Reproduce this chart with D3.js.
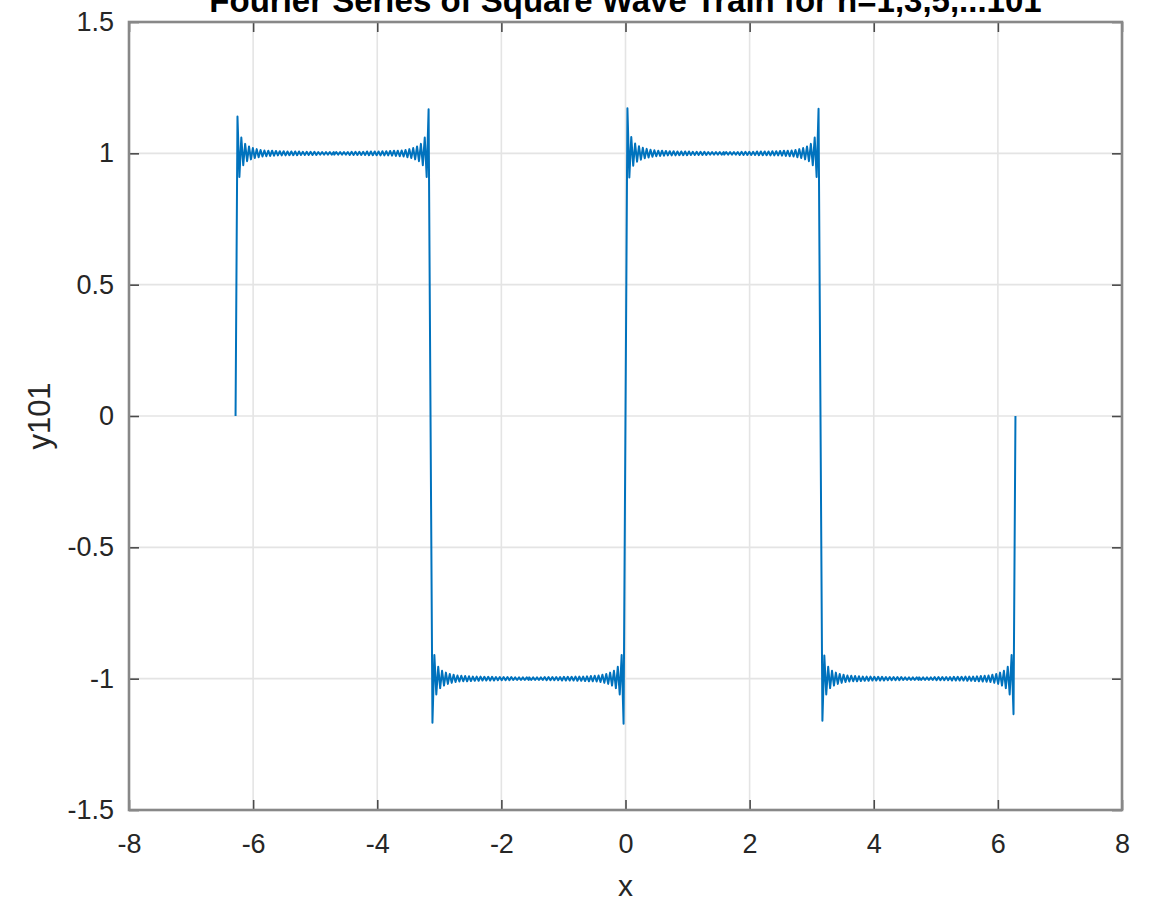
<!DOCTYPE html>
<html>
<head>
<meta charset="utf-8">
<script src="https://cdn.jsdelivr.net/npm/d3@7"></script>
<style>
  body { margin: 0; background: #fff; }
  svg { display: block; font-family: "Liberation Sans", Arial, Helvetica, sans-serif; }
</style>
</head>
<body>
<svg width="1153" height="909"></svg>
<script>
// values (x, y101), one array per half period
var riseLeft = [
  [-6.2832, 0.000],
  [-6.2522, 1.140], [-6.2212, 0.910], [-6.1902, 1.060], [-6.1592, 0.955], [-6.1282, 1.036],
  [-6.0972, 0.970], [-6.0662, 1.026], [-6.0352, 0.977], [-6.0042, 1.020], [-5.9732, 0.982],
  [-5.9422, 1.016], [-5.9112, 0.985], [-5.8802, 1.013], [-5.8492, 0.988], [-5.8182, 1.011],
  [-5.7872, 0.989], [-5.7562, 1.010], [-5.7252, 0.990], [-5.6942, 1.010], [-5.6632, 0.991],
  [-5.6322, 1.009], [-5.6012, 0.992], [-5.5702, 1.008], [-5.5392, 0.992], [-5.5082, 1.008],
  [-5.4772, 0.992], [-5.4462, 1.007], [-5.4152, 0.993], [-5.3842, 1.007], [-5.3532, 0.993],
  [-5.3222, 1.007], [-5.2912, 0.993], [-5.2602, 1.007], [-5.2292, 0.994], [-5.1982, 1.006],
  [-5.1672, 0.994], [-5.1362, 1.006], [-5.1052, 0.994], [-5.0742, 1.006], [-5.0432, 0.994],
  [-5.0122, 1.006], [-4.9812, 0.994], [-4.9502, 1.005], [-4.9192, 0.995], [-4.8882, 1.005],
  [-4.8572, 0.995], [-4.8262, 1.005], [-4.7952, 0.995], [-4.7642, 1.005], [-4.7332, 0.995],
  [-4.7022, 1.005], [-4.6916, 0.995], [-4.6606, 1.005], [-4.6296, 0.995], [-4.5986, 1.005],
  [-4.5676, 0.995], [-4.5366, 1.005], [-4.5056, 0.995], [-4.4746, 1.005], [-4.4436, 0.994],
  [-4.4126, 1.006], [-4.3816, 0.994], [-4.3506, 1.006], [-4.3196, 0.994], [-4.2886, 1.006],
  [-4.2576, 0.994], [-4.2266, 1.006], [-4.1956, 0.994], [-4.1646, 1.007], [-4.1336, 0.993],
  [-4.1026, 1.007], [-4.0716, 0.993], [-4.0406, 1.007], [-4.0096, 0.993], [-3.9786, 1.007],
  [-3.9476, 0.992], [-3.9166, 1.008], [-3.8856, 0.992], [-3.8546, 1.008], [-3.8236, 0.992],
  [-3.7926, 1.009], [-3.7616, 0.991], [-3.7306, 1.010], [-3.6996, 0.990], [-3.6686, 1.010],
  [-3.6376, 0.989], [-3.6066, 1.011], [-3.5756, 0.988], [-3.5446, 1.013], [-3.5136, 0.985],
  [-3.4826, 1.016], [-3.4516, 0.982], [-3.4206, 1.020], [-3.3896, 0.977], [-3.3586, 1.026],
  [-3.3276, 0.970], [-3.2966, 1.036], [-3.2656, 0.955], [-3.2346, 1.060], [-3.2036, 0.910],
  [-3.1726, 1.168]
];

var lowLeft = [
  [-3.1106, -1.168], [-3.0796, -0.910], [-3.0486, -1.060], [-3.0176, -0.955], [-2.9866, -1.036],
  [-2.9556, -0.970], [-2.9246, -1.026], [-2.8936, -0.977], [-2.8626, -1.020], [-2.8316, -0.982],
  [-2.8006, -1.016], [-2.7696, -0.985], [-2.7386, -1.013], [-2.7076, -0.988], [-2.6766, -1.011],
  [-2.6456, -0.989], [-2.6146, -1.010], [-2.5836, -0.990], [-2.5526, -1.010], [-2.5216, -0.991],
  [-2.4906, -1.009], [-2.4596, -0.992], [-2.4286, -1.008], [-2.3976, -0.992], [-2.3666, -1.008],
  [-2.3356, -0.992], [-2.3046, -1.007], [-2.2736, -0.993], [-2.2426, -1.007], [-2.2116, -0.993],
  [-2.1806, -1.007], [-2.1496, -0.993], [-2.1186, -1.007], [-2.0876, -0.994], [-2.0566, -1.006],
  [-2.0256, -0.994], [-1.9946, -1.006], [-1.9636, -0.994], [-1.9326, -1.006], [-1.9016, -0.994],
  [-1.8706, -1.006], [-1.8396, -0.994], [-1.8086, -1.005], [-1.7776, -0.995], [-1.7466, -1.005],
  [-1.7156, -0.995], [-1.6846, -1.005], [-1.6536, -0.995], [-1.6226, -1.005], [-1.5916, -0.995],
  [-1.5606, -1.005], [-1.550, -0.995], [-1.519, -1.005], [-1.488, -0.995], [-1.457, -1.005],
  [-1.426, -0.995], [-1.395, -1.005], [-1.364, -0.995], [-1.333, -1.005], [-1.302, -0.994],
  [-1.271, -1.006], [-1.240, -0.994], [-1.209, -1.006], [-1.178, -0.994], [-1.147, -1.006],
  [-1.116, -0.994], [-1.085, -1.006], [-1.054, -0.994], [-1.023, -1.007], [-0.992, -0.993],
  [-0.961, -1.007], [-0.930, -0.993], [-0.899, -1.007], [-0.868, -0.993], [-0.837, -1.007],
  [-0.806, -0.992], [-0.775, -1.008], [-0.744, -0.992], [-0.713, -1.008], [-0.682, -0.992],
  [-0.651, -1.009], [-0.620, -0.991], [-0.589, -1.010], [-0.558, -0.990], [-0.527, -1.010],
  [-0.496, -0.989], [-0.465, -1.011], [-0.434, -0.988], [-0.403, -1.013], [-0.372, -0.985],
  [-0.341, -1.016], [-0.310, -0.982], [-0.279, -1.020], [-0.248, -0.977], [-0.217, -1.026],
  [-0.186, -0.970], [-0.155, -1.036], [-0.124, -0.955], [-0.093, -1.060], [-0.062, -0.910],
  [-0.031, -1.172]
];

var riseRight = [
  [0.031, 1.172], [0.062, 0.908], [0.093, 1.062], [0.124, 0.953], [0.155, 1.037],
  [0.186, 0.968], [0.217, 1.027], [0.248, 0.976], [0.279, 1.021], [0.310, 0.981],
  [0.341, 1.017], [0.372, 0.984], [0.403, 1.014], [0.434, 0.987], [0.465, 1.012],
  [0.496, 0.989], [0.527, 1.010], [0.558, 0.990], [0.589, 1.010], [0.620, 0.991],
  [0.651, 1.009], [0.682, 0.992], [0.713, 1.008], [0.744, 0.992], [0.775, 1.008],
  [0.806, 0.992], [0.837, 1.007], [0.868, 0.993], [0.899, 1.007], [0.930, 0.993],
  [0.961, 1.007], [0.992, 0.993], [1.023, 1.007], [1.054, 0.994], [1.085, 1.006],
  [1.116, 0.994], [1.147, 1.006], [1.178, 0.994], [1.209, 1.006], [1.240, 0.994],
  [1.271, 1.006], [1.302, 0.994], [1.333, 1.005], [1.364, 0.995], [1.395, 1.005],
  [1.426, 0.995], [1.457, 1.005], [1.488, 0.995], [1.519, 1.005], [1.550, 0.995],
  [1.581, 1.005], [1.5916, 0.995], [1.6226, 1.005], [1.6536, 0.995], [1.6846, 1.005],
  [1.7156, 0.995], [1.7466, 1.005], [1.7776, 0.995], [1.8086, 1.005], [1.8396, 0.994],
  [1.8706, 1.006], [1.9016, 0.994], [1.9326, 1.006], [1.9636, 0.994], [1.9946, 1.006],
  [2.0256, 0.994], [2.0566, 1.006], [2.0876, 0.994], [2.1186, 1.007], [2.1496, 0.993],
  [2.1806, 1.007], [2.2116, 0.993], [2.2426, 1.007], [2.2736, 0.993], [2.3046, 1.007],
  [2.3356, 0.992], [2.3666, 1.008], [2.3976, 0.992], [2.4286, 1.008], [2.4596, 0.992],
  [2.4906, 1.009], [2.5216, 0.991], [2.5526, 1.010], [2.5836, 0.990], [2.6146, 1.010],
  [2.6456, 0.989], [2.6766, 1.011], [2.7076, 0.988], [2.7386, 1.013], [2.7696, 0.985],
  [2.8006, 1.016], [2.8316, 0.982], [2.8626, 1.020], [2.8936, 0.977], [2.9246, 1.026],
  [2.9556, 0.970], [2.9866, 1.036], [3.0176, 0.955], [3.0486, 1.060], [3.0796, 0.910],
  [3.1106, 1.170]
];

var lowRight = [
  [3.1726, -1.160], [3.2036, -0.912], [3.2346, -1.060], [3.2656, -0.955], [3.2966, -1.036],
  [3.3276, -0.970], [3.3586, -1.026], [3.3896, -0.977], [3.4206, -1.020], [3.4516, -0.982],
  [3.4826, -1.016], [3.5136, -0.985], [3.5446, -1.013], [3.5756, -0.988], [3.6066, -1.011],
  [3.6376, -0.989], [3.6686, -1.010], [3.6996, -0.990], [3.7306, -1.010], [3.7616, -0.991],
  [3.7926, -1.009], [3.8236, -0.992], [3.8546, -1.008], [3.8856, -0.992], [3.9166, -1.008],
  [3.9476, -0.992], [3.9786, -1.007], [4.0096, -0.993], [4.0406, -1.007], [4.0716, -0.993],
  [4.1026, -1.007], [4.1336, -0.993], [4.1646, -1.007], [4.1956, -0.994], [4.2266, -1.006],
  [4.2576, -0.994], [4.2886, -1.006], [4.3196, -0.994], [4.3506, -1.006], [4.3816, -0.994],
  [4.4126, -1.006], [4.4436, -0.994], [4.4746, -1.005], [4.5056, -0.995], [4.5366, -1.005],
  [4.5676, -0.995], [4.5986, -1.005], [4.6296, -0.995], [4.6606, -1.005], [4.6916, -0.995],
  [4.7226, -1.005], [4.7332, -0.995], [4.7642, -1.005], [4.7952, -0.995], [4.8262, -1.005],
  [4.8572, -0.995], [4.8882, -1.005], [4.9192, -0.995], [4.9502, -1.005], [4.9812, -0.994],
  [5.0122, -1.006], [5.0432, -0.994], [5.0742, -1.006], [5.1052, -0.994], [5.1362, -1.006],
  [5.1672, -0.994], [5.1982, -1.006], [5.2292, -0.994], [5.2602, -1.007], [5.2912, -0.993],
  [5.3222, -1.007], [5.3532, -0.993], [5.3842, -1.007], [5.4152, -0.993], [5.4462, -1.007],
  [5.4772, -0.992], [5.5082, -1.008], [5.5392, -0.992], [5.5702, -1.008], [5.6012, -0.992],
  [5.6322, -1.009], [5.6632, -0.991], [5.6942, -1.010], [5.7252, -0.990], [5.7562, -1.011],
  [5.7872, -0.989], [5.8182, -1.012], [5.8492, -0.988], [5.8802, -1.013], [5.9112, -0.985],
  [5.9422, -1.016], [5.9732, -0.982], [6.0042, -1.020], [6.0352, -0.977], [6.0662, -1.026],
  [6.0972, -0.970], [6.1282, -1.036], [6.1592, -0.955], [6.1902, -1.060], [6.2212, -0.910],
  [6.2522, -1.135], [6.2832, 0.000]
];

var xTicks = [-8, -6, -4, -2, 0, 2, 4, 6, 8];
var yTicks = [-1.5, -1, -0.5, 0, 0.5, 1, 1.5];
var titleText = 'Fourier Series of Square Wave Train for n=1,3,5,...101';

var svg = d3.select('svg');

var plotLeft = 129, plotTop = 22, plotRight = 1122, plotBottom = 810;

var x = d3.scaleLinear().domain([-8, 8]).range([plotLeft, plotRight]);
var y = d3.scaleLinear().domain([-1.5, 1.5]).range([plotBottom, plotTop]);

// grid
svg.append('g')
    .selectAll('line')
    .data(xTicks)
    .enter()
    .append('line')
    .attr('x1', function(d){ return x(d); })
    .attr('x2', function(d){ return x(d); })
    .attr('y1', plotTop)
    .attr('y2', plotBottom)
    .attr('stroke', '#e4e4e4')
    .attr('stroke-width', 1.6);

svg.append('g')
    .selectAll('line')
    .data(yTicks)
    .enter()
    .append('line')
    .attr('x1', plotLeft)
    .attr('x2', plotRight)
    .attr('y1', function(d){ return y(d); })
    .attr('y2', function(d){ return y(d); })
    .attr('stroke', '#e4e4e4')
    .attr('stroke-width', 1.6);

// axes with inward ticks on all four sides
function styleAxis(g){
    g.select('.domain').remove();
    g.selectAll('.tick line').attr('stroke', '#4a4a4a').attr('stroke-width', 1.6);
    g.selectAll('.tick text')
        .attr('fill', '#262626')
        .style('font-size', '27px')
        .style('font-family', '"Liberation Sans", Arial, sans-serif');
}

svg.append('g')
    .attr('transform', 'translate(0,' + plotBottom + ')')
    .call(d3.axisBottom(x).tickValues(xTicks).tickSizeInner(-10).tickSizeOuter(0).tickPadding(24)
        .tickFormat(function(d){ return String(d); }))
    .call(styleAxis);

svg.append('g')
    .attr('transform', 'translate(0,' + plotTop + ')')
    .call(d3.axisTop(x).tickValues(xTicks).tickSizeInner(-10).tickSizeOuter(0).tickFormat(''))
    .call(styleAxis);

svg.append('g')
    .attr('transform', 'translate(' + plotLeft + ',0)')
    .call(d3.axisLeft(y).tickValues(yTicks).tickSizeInner(-10).tickSizeOuter(0).tickPadding(15)
        .tickFormat(function(d){ return String(d); }))
    .call(styleAxis);

svg.append('g')
    .attr('transform', 'translate(' + plotRight + ',0)')
    .call(d3.axisRight(y).tickValues(yTicks).tickSizeInner(-10).tickSizeOuter(0).tickFormat(''))
    .call(styleAxis);

// box
svg.append('rect')
    .attr('x', plotLeft)
    .attr('y', plotTop)
    .attr('width', plotRight - plotLeft)
    .attr('height', plotBottom - plotTop)
    .attr('fill', 'none')
    .attr('stroke', '#888888')
    .attr('stroke-width', 2.6);

// the series
var lineFunction = d3.line()
    .x(function(d){ return x(d[0]); })
    .y(function(d){ return y(d[1]); });

var wave = riseLeft.concat(lowLeft, riseRight, lowRight);

svg.append('path')
    .datum(wave)
    .attr('d', lineFunction)
    .attr('fill', 'none')
    .attr('stroke', '#0072bd')
    .attr('stroke-width', 2)
    .attr('stroke-linejoin', 'round');

// labels
svg.append('text')
    .attr('x', x(0))
    .attr('y', 12)
    .attr('text-anchor', 'middle')
    .attr('fill', '#000')
    .style('font-size', '33px')
    .style('font-weight', 'bold')
    .text(titleText);

svg.append('text')
    .attr('x', x(0))
    .attr('y', 896)
    .attr('text-anchor', 'middle')
    .attr('fill', '#262626')
    .style('font-size', '30px')
    .text('x');

svg.append('text')
    .attr('transform', 'translate(50,' + y(0) + ') rotate(-90)')
    .attr('text-anchor', 'middle')
    .attr('fill', '#262626')
    .style('font-size', '31px')
    .text('y101');
</script>
</body>
</html>
